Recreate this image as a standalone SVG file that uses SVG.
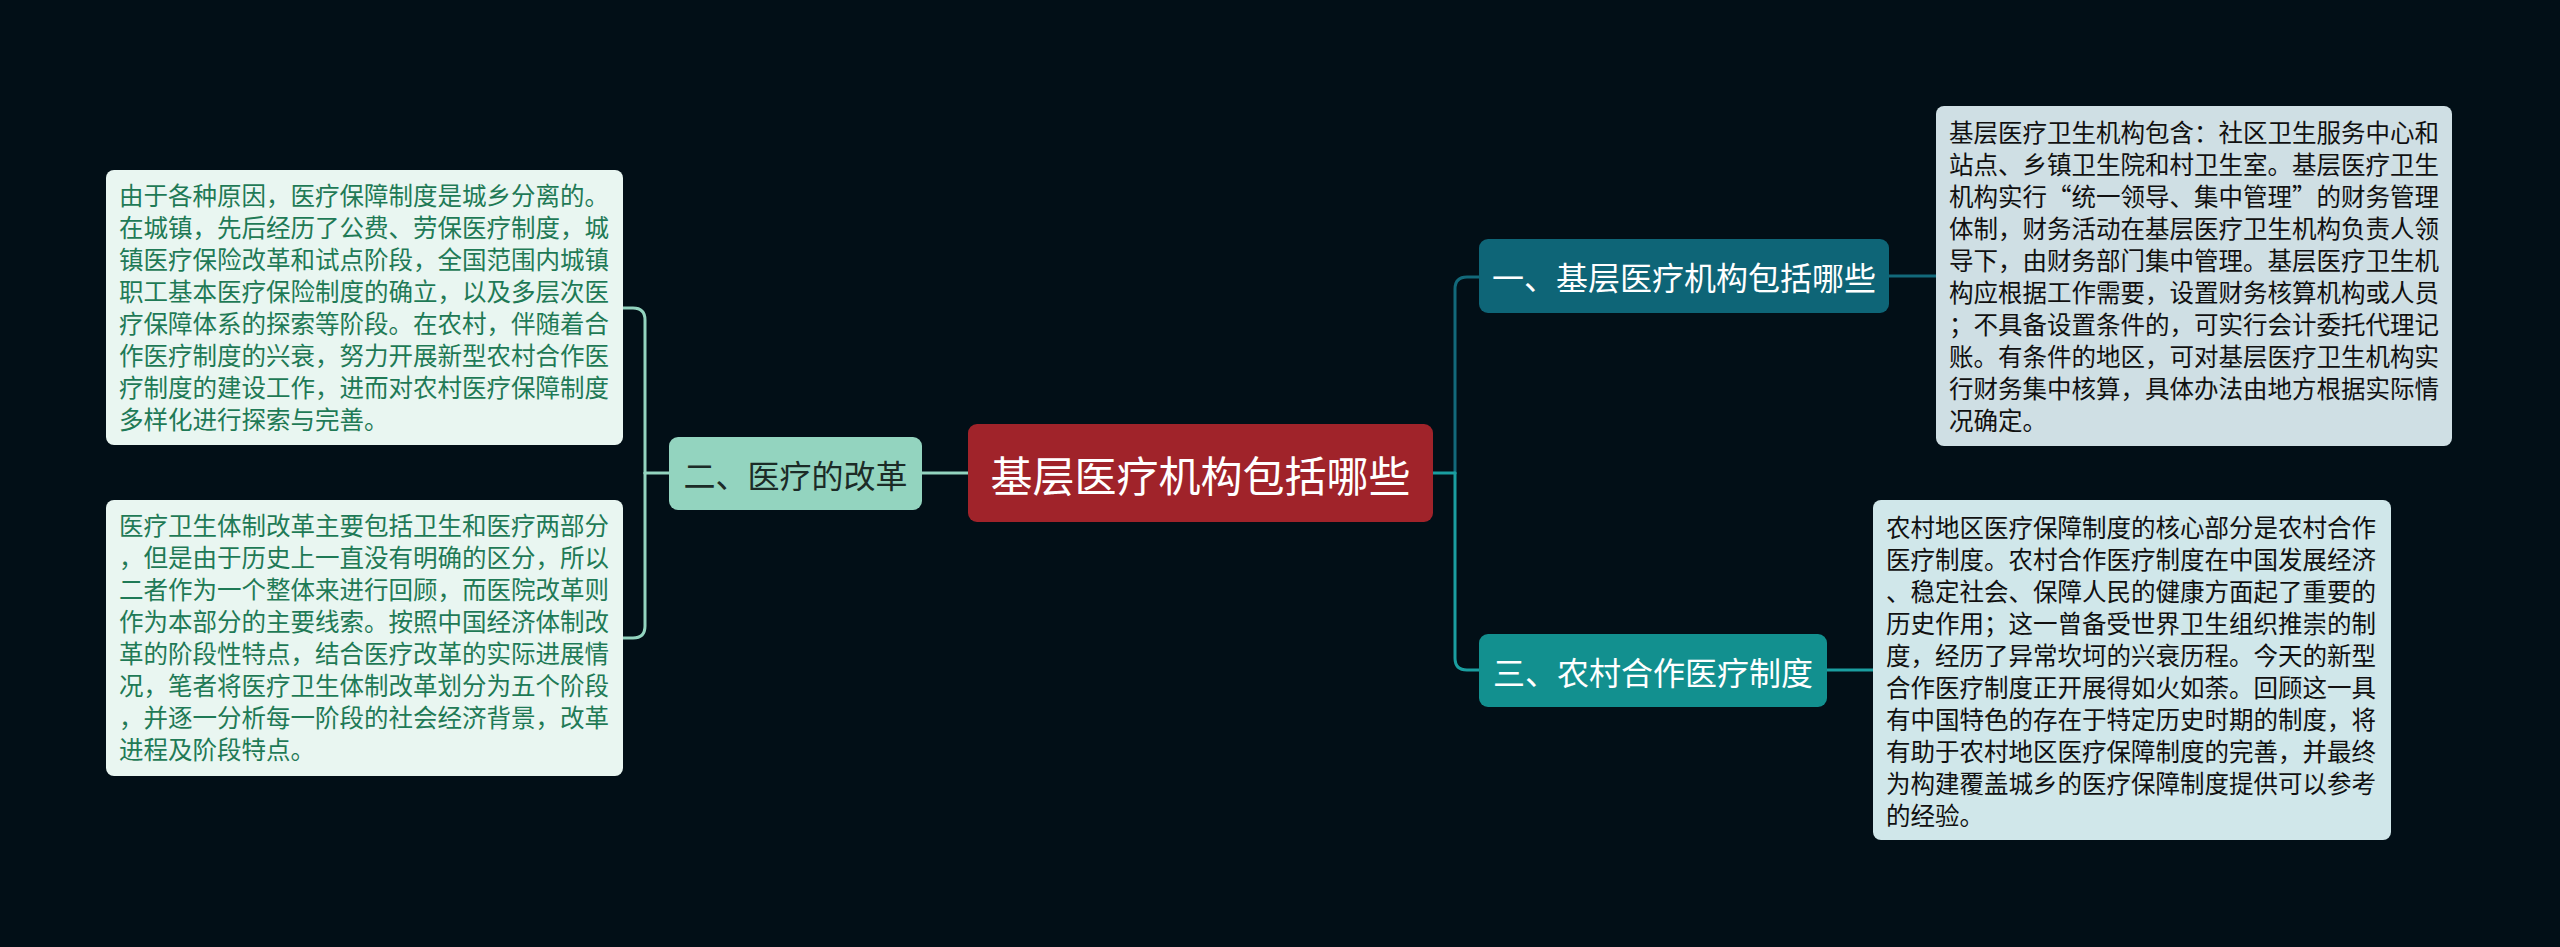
<svg xmlns="http://www.w3.org/2000/svg" width="2560" height="947" viewBox="0 0 2560 947">
<style>
.c{fill:none;stroke-width:3;stroke-linecap:round}
.mint{stroke:#93d4bf}
.dk{stroke:#12697a}
.lt{stroke:#1a9ea0}
text{font-family:"Noto Sans CJK SC","Noto Sans",sans-serif}
.leafL{font-size:24.5px;fill:#1f7a56}
.leafR{font-size:24.5px;fill:#111}
.mid{font-size:32px;text-anchor:middle;dominant-baseline:central}
</style>
<rect width="2560" height="947" fill="#020f17"/>
<g id="connectors">
<path class="c mint" d="M968,473H922"/>
<path class="c mint" d="M669,473H645"/>
<path class="c mint" d="M645,473V320Q645,308 633,308H623"/>
<path class="c mint" d="M645,473V626Q645,638 633,638H623"/>
<path class="c dk" d="M1455,473V289Q1455,277 1467,277H1479"/>
<path class="c lt" d="M1455,473V658Q1455,670 1467,670H1479"/>
<path class="c lt" d="M1433,473H1455"/>
<path class="c dk" d="M1889,276H1936"/>
<path class="c lt" d="M1827,670H1873"/>
</g>
<g id="root">
<rect x="968" y="424" width="465" height="98" rx="9" fill="#a0232a"/>
<text x="1200.5" y="473" font-size="42" fill="#fff" text-anchor="middle" dominant-baseline="central">基层医疗机构包括哪些</text>
</g>
<g id="n2">
<rect x="669" y="437" width="253" height="73" rx="9" fill="#93d4bf"/>
<text class="mid" x="795.5" y="473.5" fill="#1c2b27">二、医疗的改革</text>
</g>
<g id="n1">
<rect x="1479" y="239" width="410" height="74" rx="9" fill="#0e6577"/>
<text class="mid" x="1684" y="276" fill="#fff">一、基层医疗机构包括哪些</text>
</g>
<g id="n3">
<rect x="1479" y="634" width="348" height="73" rx="9" fill="#12908f"/>
<text class="mid" x="1653" y="670.5" fill="#fff">三、农村合作医疗制度</text>
</g>
<g id="leaf2a">
<rect x="106" y="170" width="517" height="275" rx="8" fill="#e9f6f1"/>
<text class="leafL" x="119">
<tspan x="119" y="205">由于各种原因，医疗保障制度是城乡分离的。</tspan>
<tspan x="119" y="237">在城镇，先后经历了公费、劳保医疗制度，城</tspan>
<tspan x="119" y="269">镇医疗保险改革和试点阶段，全国范围内城镇</tspan>
<tspan x="119" y="301">职工基本医疗保险制度的确立，以及多层次医</tspan>
<tspan x="119" y="333">疗保障体系的探索等阶段。在农村，伴随着合</tspan>
<tspan x="119" y="365">作医疗制度的兴衰，努力开展新型农村合作医</tspan>
<tspan x="119" y="397">疗制度的建设工作，进而对农村医疗保障制度</tspan>
<tspan x="119" y="429">多样化进行探索与完善。</tspan>
</text>
</g>
<g id="leaf2b">
<rect x="106" y="500" width="517" height="276" rx="8" fill="#e9f6f1"/>
<text class="leafL" x="119">
<tspan x="119" y="535">医疗卫生体制改革主要包括卫生和医疗两部分</tspan>
<tspan x="119" y="567">，但是由于历史上一直没有明确的区分，所以</tspan>
<tspan x="119" y="599">二者作为一个整体来进行回顾，而医院改革则</tspan>
<tspan x="119" y="631">作为本部分的主要线索。按照中国经济体制改</tspan>
<tspan x="119" y="663">革的阶段性特点，结合医疗改革的实际进展情</tspan>
<tspan x="119" y="695">况，笔者将医疗卫生体制改革划分为五个阶段</tspan>
<tspan x="119" y="727">，并逐一分析每一阶段的社会经济背景，改革</tspan>
<tspan x="119" y="759">进程及阶段特点。</tspan>
</text>
</g>
<g id="leaf1">
<rect x="1936" y="106" width="516" height="340" rx="8" fill="#cfdfe4"/>
<text class="leafR" x="1949">
<tspan x="1949" y="142">基层医疗卫生机构包含：社区卫生服务中心和</tspan>
<tspan x="1949" y="174">站点、乡镇卫生院和村卫生室。基层医疗卫生</tspan>
<tspan x="1949" y="206">机构实行“统一领导、集中管理”的财务管理</tspan>
<tspan x="1949" y="238">体制，财务活动在基层医疗卫生机构负责人领</tspan>
<tspan x="1949" y="270">导下，由财务部门集中管理。基层医疗卫生机</tspan>
<tspan x="1949" y="302">构应根据工作需要，设置财务核算机构或人员</tspan>
<tspan x="1949" y="334">；不具备设置条件的，可实行会计委托代理记</tspan>
<tspan x="1949" y="366">账。有条件的地区，可对基层医疗卫生机构实</tspan>
<tspan x="1949" y="398">行财务集中核算，具体办法由地方根据实际情</tspan>
<tspan x="1949" y="430">况确定。</tspan>
</text>
</g>
<g id="leaf3">
<rect x="1873" y="500" width="518" height="340" rx="8" fill="#d0e7ea"/>
<text class="leafR" x="1886">
<tspan x="1886" y="537">农村地区医疗保障制度的核心部分是农村合作</tspan>
<tspan x="1886" y="569">医疗制度。农村合作医疗制度在中国发展经济</tspan>
<tspan x="1886" y="601">、稳定社会、保障人民的健康方面起了重要的</tspan>
<tspan x="1886" y="633">历史作用；这一曾备受世界卫生组织推崇的制</tspan>
<tspan x="1886" y="665">度，经历了异常坎坷的兴衰历程。今天的新型</tspan>
<tspan x="1886" y="697">合作医疗制度正开展得如火如荼。回顾这一具</tspan>
<tspan x="1886" y="729">有中国特色的存在于特定历史时期的制度，将</tspan>
<tspan x="1886" y="761">有助于农村地区医疗保障制度的完善，并最终</tspan>
<tspan x="1886" y="793">为构建覆盖城乡的医疗保障制度提供可以参考</tspan>
<tspan x="1886" y="825">的经验。</tspan>
</text>
</g>
</svg>
